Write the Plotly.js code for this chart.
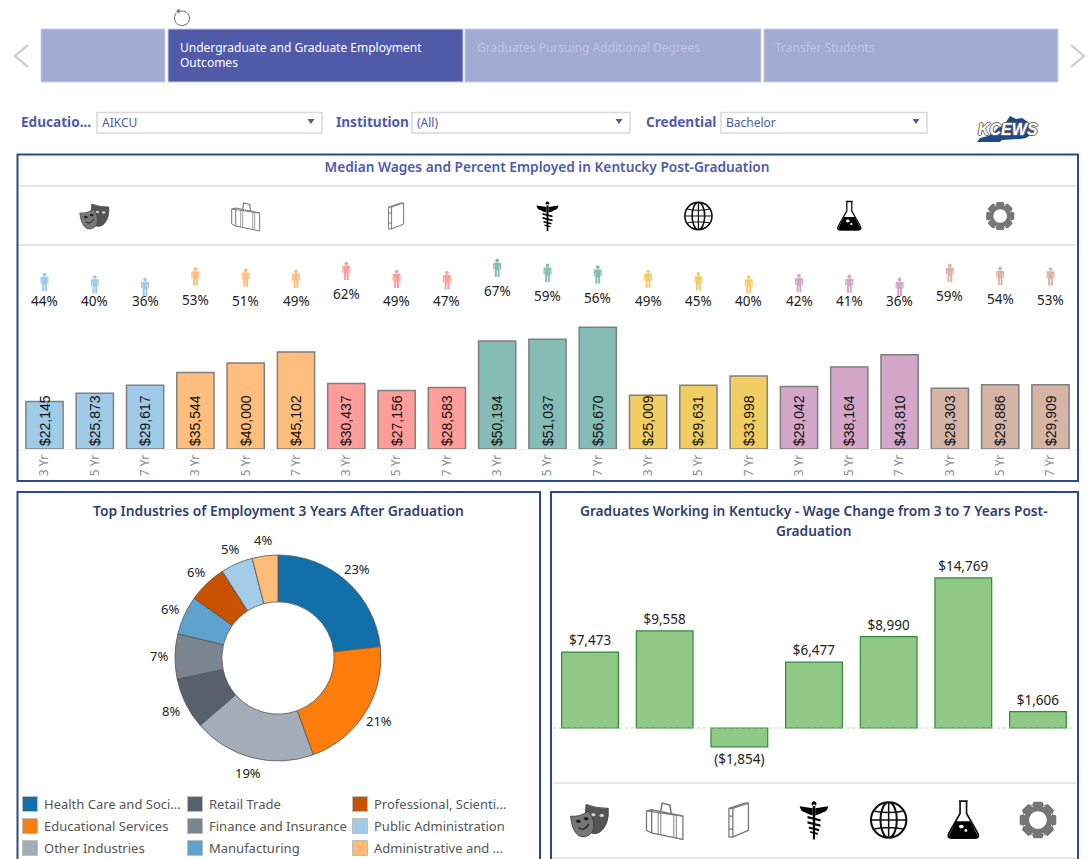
<!DOCTYPE html>
<html><head><meta charset="utf-8">
<script src="https://cdn.plot.ly/plotly-3.0.1.min.js"></script>
<style>html,body{margin:0;padding:0;background:#fff;overflow:hidden}#c{width:1091px;height:859px}</style>
</head><body><div id="c"></div>
<script>
// ---- data ----
const wageYears = ["3 Yr","5 Yr","7 Yr","3 Yr","5 Yr","7 Yr","3 Yr","5 Yr","7 Yr","3 Yr","5 Yr","7 Yr","3 Yr","5 Yr","7 Yr","3 Yr","5 Yr","7 Yr","3 Yr","5 Yr","7 Yr"];
const medianWages = [22145,25873,29617,35544,40000,45102,30437,27156,28583,50194,51037,56670,25009,29631,33998,29042,38164,43810,28303,29886,29909];
const pctEmployed = [44,40,36,53,51,49,62,49,47,67,59,56,49,45,40,42,41,36,59,54,53];
const groupColors = ["#A0CBE8","#FFBE7D","#FF9D9A","#86BCB6","#F1CE63","#D4A6C8","#D7B5A6"];
const industries = ["Health Care and Soci...","Educational Services","Other Industries","Retail Trade","Finance and Insurance","Manufacturing","Professional, Scienti...","Public Administration","Administrative and ..."];
const industryPct = [23,21,19,8,7,6,6,5,4];
const industryColors = ["#1170AA","#FC7D0B","#A3ACB9","#57606C","#7B848F","#5FA2CE","#C85200","#A3CCE9","#FFBC79"];
const wageChange = [7473,9558,-1854,6477,8990,14769,1606];
const iconKinds = ["masks","case","book","caduceus","globe","flask","gear"];

// ---- helpers ----
const W = 1091, H = 859;
const F = '"Noto Sans", sans-serif';
const NAVY = "#2C4A86", INDIGO = "#4F5BA9";
const px = x => x / W, py = y => 1 - y / H;
const shapes = [], annotations = [];

function rect(x0, y0, x1, y1, fill, line, lw) {
  shapes.push({type:"rect", xref:"paper", yref:"paper", x0:px(x0), x1:px(x1), y0:py(y0), y1:py(y1),
    fillcolor:fill || "rgba(0,0,0,0)", line:{color:line || "rgba(0,0,0,0)", width:lw === undefined ? 0 : lw}});
}
function hline(x0, x1, y, color, lw) {
  shapes.push({type:"line", xref:"paper", yref:"paper", x0:px(x0), x1:px(x1), y0:py(y), y1:py(y), line:{color:color, width:lw}});
}
function label(x, y, text, opts) {
  opts = opts || {};
  annotations.push({xref:"paper", yref:"paper", x:px(x), y:py(y), text:text, showarrow:false,
    xanchor:opts.anchor || "left", yanchor:"middle", align:opts.align || "left",
    font:{family:opts.family || F, size:opts.size || 13, color:opts.color || "#333",
      weight:opts.weight || 400, style:opts.style || "normal", shadow:opts.shadow || "none"},
    borderpad:0, xshift:0});
}
// local path: y pointing down, absolute M L Q C Z only
function flip(path, s) {
  return path.replace(/(-?[\d.]+)[ ,](-?[\d.]+)/g, (m, a, b) => (a * s).toFixed(2) + "," + (-b * s).toFixed(2));
}
function pixShape(path, s, xref, xanchor, yref, yanchor, style) {
  shapes.push(Object.assign({type:"path", path:flip(path, s), xref:xref, yref:yref,
    xsizemode:"pixel", ysizemode:"pixel", xanchor:xanchor, yanchor:yanchor,
    line:{color:style.line || "rgba(0,0,0,0)", width:style.lw === undefined ? 1 : style.lw},
    fillcolor:style.fill || "rgba(0,0,0,0)"}, style.rule ? {fillrule:style.rule} : {}));
}
function pagePix(path, x, y, style) { pixShape(path, 1, "paper", px(x), "paper", py(y), style); }
function ell(cx, cy, rx, ry) {
  const k = 0.5523, a = rx * k, b = ry * k;
  return `M${cx - rx},${cy}C${cx - rx},${cy - b} ${cx - a},${cy - ry} ${cx},${cy - ry}` +
    `C${cx + a},${cy - ry} ${cx + rx},${cy - b} ${cx + rx},${cy}` +
    `C${cx + rx},${cy + b} ${cx + a},${cy + ry} ${cx},${cy + ry}` +
    `C${cx - a},${cy + ry} ${cx - rx},${cy + b} ${cx - rx},${cy}Z`;
}
const gearPath = (() => {
  const teeth = 8; let d = "";
  for (let i = 0; i < teeth; i++) {
    const a = i * 2 * Math.PI / teeth - Math.PI / 2, w = 0.24;
    const P = (r, t) => (r * Math.cos(t)).toFixed(2) + "," + (r * Math.sin(t)).toFixed(2);
    d += (i ? "L" : "M") + P(11, a - 2 * w) + "L" + P(14.5, a - w) + "L" + P(14.5, a + w) + "L" + P(11, a + 2 * w);
  }
  return d + "Z" + ell(0, 0, 6.8, 6.8);
})();
const ICONS = {
  masks: [
    {d:"M-3,-12Q4,-9 14,-9Q15,3 8,9Q3,12 0,9Q-5,0 -3,-12Z", fill:"#555", line:"#333", lw:.6},
    {d:ell(2.5,-4,1.8,1.2)+ell(9,-3.5,1.8,1.2), fill:"#cfcfcf"},
    {d:"M-15,-3Q-8,-2 -1,-7Q5,2 2,9Q-3,15 -9,12Q-14,8 -15,-3Z", fill:"#777", line:"#333", lw:.6},
    {d:ell(-9,1,1.9,1.3)+ell(-3,-1,1.9,1.3), fill:"#222"},
    {d:"M-9,6Q-4,9 -1,3", line:"#222", lw:1}
  ],
  case: [
    {d:"M-10,-8L14,-3L14,15L-10,10Z", fill:"#fff", line:"#777", lw:1},
    {d:"M-10,-8L-14,-7L-14,8L-10,10M-14,-7L10,-3.5L14,-3", line:"#777", lw:1},
    {d:"M-5,-7L-5,11M-3,-6.5L-3,11.5M7,-4.5L7,13.5M9,-4L9,14", line:"#888", lw:.8},
    {d:"M-3,-7L-2,-13L4,-11.5L5,-5", line:"#777", lw:1.2}
  ],
  book: [
    {d:"M-5,-9L7,-13L7,8L-5,13Z", fill:"#fff", line:"#777", lw:1},
    {d:"M-5,-9L-8,-9L-8,13L-5,13M-8,-9L4,-13L7,-13M-8,-3L-5,-3M-8,7L-5,7", line:"#777", lw:1}
  ],
  caduceus: [
    {d:"M-1,-12L1,-12L.8,15L-.8,15Z"+ell(0,-12.5,1.9,1.9), fill:"#000"},
    {d:"M-1,-9L-11,-10.5Q-10,-6 -7,-6Q-4,-4 -1,-3.5ZM1,-9L11,-10.5Q10,-6 7,-6Q4,-4 1,-3.5Z", fill:"#000"},
    {d:"M-5,-3L5,-.5L5,1.2L-5,-1.3ZM-5,1L5,3.5L5,5.2L-5,2.7ZM-4,5L4,7L4,8.6L-4,6.6ZM-3,8.5L3,10L3,11.3L-3,9.8Z", fill:"#000"}
  ],
  globe: [
    {d:ell(0,0,13.6,13.6)+ell(0,0,6.3,13.6), line:"#111", lw:1.6},
    {d:"M-13.6,0L13.6,0M0,-13.6L0,13.6M-11.5,-7Q0,-4.5 11.5,-7M-11.5,7Q0,4.5 11.5,7", line:"#111", lw:1.2}
  ],
  flask: [
    {d:"M-3.4,-14.5L3.4,-14.5M-2.5,-14.5L-2.5,-5L-11,10Q-13,14 -9,14L9,14Q13,14 11,10L2.5,-5L2.5,-14.5", fill:"#fff", line:"#111", lw:1.3},
    {d:"M-5.5,1L5.5,1L11,12Q11,14 9,14L-9,14Q-11,14 -11,12Z", fill:"#000"},
    {d:ell(-1.5,5,1.8,1.4)+ell(2,8,1.1,1), fill:"#fff"}
  ],
  gear: [{d:gearPath, fill:"#767676", rule:"evenodd"}]
};
function icon(kind, xref, xval, yPx, s) {
  ICONS[kind].forEach(p => pixShape(p.d, s, xref, xval, "paper", py(yPx),
    {fill:p.fill, line:p.line, lw:p.lw === undefined ? 0 : p.lw * s, rule:p.rule}));
}
const PERSON = ell(0,-7.5,1.9,1.9) + "M-2.6,-5.3L2.6,-5.3Q4,-5.3 4,-3.9L4,1.6L2.8,1.6L2.8,-3L2.4,-3L2.4,9L.4,9L.4,2.5L-.4,2.5L-.4,9L-2.4,9L-2.4,-3L-2.8,-3L-2.8,1.6L-4,1.6L-4,-3.9Q-4,-5.3 -2.6,-5.3Z";

// ---- page furniture ----
// tabs
[[41,165,0],[168,463,1],[465,761,0],[764,1058,0]].forEach(t =>
  rect(t[0], 29, t[1], 82, t[2] ? INDIGO : "#A4ABD3", "#C9CEE6", 1));
label(178.5, 48, "Undergraduate and Graduate Employment", {color:"#fff", size:12});
label(178.5, 62.5, "Outcomes", {color:"#fff", size:12});
label(475.5, 48, "Graduates Pursuing Additional Degrees", {color:"#BFC4E0", size:12});
label(773.5, 48, "Transfer Students", {color:"#BFC4E0", size:12});
pagePix("M13,-11L0,0L13,11", 15, 56, {line:"#C9C9C9", lw:2});
pagePix("M0,-11L13,0L0,11", 1071, 56, {line:"#C9C9C9", lw:2});
// reload mark
pagePix("M-2.5,-6.6C3,-8.5 7.5,-4 7.5,0C7.5,4.5 4,7.5 0,7.5C-4,7.5 -7.5,4.5 -7.5,0C-7.5,-2 -6.5,-4 -5.5,-5", 182, 18, {line:"#666", lw:1});
pagePix("M-2.5,-9.5L-2.5,-4.5L-6,-6.8Z", 182, 18, {fill:"#666", lw:0});
// filters
[["Educatio...",19.5,97,322,"AIKCU"],["Institution",334.5,412,630,"(All)"],["Credential",644.5,721,927,"Bachelor"]].forEach(f => {
  label(f[1], 121.5, f[0], {color:INDIGO, size:13.6, weight:700});
  rect(f[2], 112.5, f[3], 133, "#fff", "#D9D9D9", 1.5);
  label(f[2] + 3.5, 122.5, f[4], {color:INDIGO, size:12});
  pagePix("M-3.5,-2L3.5,-2L0,3Z", f[3] - 11, 121, {fill:INDIGO, lw:0});
});
// KCEWS logo
pagePix("M-31,12L-28,8L-20,6L-14,2L-10,-2L-2,-8L2,-14L8,-11L14,-12L20,-8L24,-4L26,0L24,4L18,8L12,9L-6,10L-8,12Z", 1008, 130, {fill:"#1F4A85", lw:0});
label(1008, 129, "KCEWS", {anchor:"center", align:"center", color:"#fff", size:16, weight:700, style:"italic",
  shadow:"-1px 0 #666, 1px 0 #666, 0 -1px #666, 0 1px #666", family:'"Liberation Sans", sans-serif'});

// panels
rect(17.5, 154.5, 1078, 481, "rgba(0,0,0,0)", NAVY, 2);
rect(17.5, 492, 540, 880, "rgba(0,0,0,0)", NAVY, 2);
rect(551, 492, 1078, 880, "rgba(0,0,0,0)", NAVY, 2);
hline(19, 1076, 186, "#DCDCDC", 1.3);
hline(19, 1076, 245, "#DCDCDC", 1.3);
hline(553, 1076, 783, "#DCDCDC", 1.3);
hline(553, 1076, 858, "#DCDCDC", 1.3);

// titles
label(814, 510.5, "Graduates Working in Kentucky - Wage Change from 3 to 7 Years Post-", {anchor:"center", color:"#2F3F6E", size:13.7, weight:600});
label(814, 530.5, "Graduation", {anchor:"center", color:"#2F3F6E", size:13.7, weight:600});
label(278.5, 510.5, "Top Industries of Employment 3 Years After Graduation", {anchor:"center", color:"#2F3F6E", size:13.8, weight:600});

// ---- top panel marks ----
const idx = medianWages.map((_, i) => i + 1);
const barColors = idx.map(i => groupColors[Math.floor((i - 1) / 3)]);
const money = v => "$" + Math.abs(v).toLocaleString("en-US");

pctEmployed.forEach((p, i) => {
  pixShape(PERSON, 1, "x", i + 1, "y2", p, {fill:barColors[i], lw:0});
  annotations.push({xref:"x", yref:"y2", x:i + 1, y:Math.max(p, 50), yshift:-23, text:p + "%", showarrow:false,
    xanchor:"center", yanchor:"middle", font:{family:F, size:13.5, color:"#222"}});
});
iconKinds.forEach((k, i) => icon(k, "x", 2 + 3 * i, 216, 1));

const barsTop = {type:"bar", x:idx, y:medianWages, xaxis:"x", yaxis:"y", width:0.74,
  marker:{color:barColors, line:{color:"#7F7F7F", width:1.5}},
  text:medianWages.map(money), textposition:"inside", insidetextanchor:"start", textangle:-90, constraintext:"none",
  insidetextfont:{family:'"Liberation Sans", Arial, sans-serif', size:14, color:"#111"}, cliponaxis:false, hoverinfo:"skip"};

// ---- pie ----
const pieCx = 278, pieCy = 658, pieLabelR = 119;
const pie = {type:"pie", labels:industries, values:industryPct, sort:false, direction:"clockwise", rotation:0,
  hole:0.545, domain:{x:[px(175), px(381)], y:[py(761), py(555)]},
  marker:{colors:industryColors, line:{color:"#555", width:0.8}},
  textinfo:"none", showlegend:false, automargin:false, hoverinfo:"skip"};
const pieTotal = industryPct.reduce((a, b) => a + b, 0);
let pieRun = 0;
industryPct.forEach(v => {
  const mid = (pieRun + v / 2) / pieTotal * 2 * Math.PI; pieRun += v;
  label(pieCx + pieLabelR * Math.sin(mid), pieCy - pieLabelR * Math.cos(mid), v + "%", {anchor:"center", align:"center", size:13, color:"#222"});
});
industries.forEach((name, i) => {
  const col = Math.floor(i / 3), row = i % 3;
  const x = [22, 187, 352][col], y = 804 + row * 22;
  rect(x + .5, y - 7.5, x + 15.5, y + 7.5, industryColors[i], "#BDBDBD", 1);
  label(x + 21, y, name, {size:13, color:"#555"});
});

// ---- right panel marks ----
const idx3 = wageChange.map((_, i) => i + 1);
const barsRight = {type:"bar", x:idx3, y:wageChange, xaxis:"x3", yaxis:"y3", width:0.76,
  marker:{color:"#8FC985", line:{color:"#2E8B3E", width:1.2}},
  text:wageChange.map(v => v < 0 ? "(" + money(v) + ")" : money(v)), textposition:"outside", constraintext:"none",
  outsidetextfont:{family:F, size:13.5, color:"#222"}, cliponaxis:false, hoverinfo:"skip"};
shapes.push({type:"line", xref:"x3 domain", yref:"y3", x0:0, x1:1, y0:0, y1:0, line:{color:"#BBBBBB", width:0.8, dash:"dot"}});
iconKinds.forEach((k, i) => icon(k, "x3", i + 1, 820, 1.3));

// ---- layout ----
const hidden = {visible:false, fixedrange:true};
const layout = {
  width:W, height:H, margin:{l:0, r:0, t:0, b:0, pad:0}, autosize:false,
  paper_bgcolor:"#fff", plot_bgcolor:"rgba(0,0,0,0)", showlegend:false, hovermode:false, bargap:0,
  title:{text:"Median Wages and Percent Employed in Kentucky Post-Graduation", xref:"paper", yref:"paper",
    x:px(547), xanchor:"center", y:py(167), yanchor:"middle", pad:{t:0, b:0, l:0, r:0},
    font:{family:F, size:13.7, color:INDIGO, weight:600}},
  xaxis:{domain:[px(19.35), px(1075.65)], range:[0.5, 21.5], tickmode:"array", tickvals:idx, ticktext:wageYears,
    tickangle:-90, tickfont:{family:F, size:12, color:"#8C8C8C"}, ticks:"", ticklabelstandoff:0, showgrid:false, zeroline:false,
    minor:{tickmode:"array", tickvals:idx.map(i => i + 0.5), ticks:"outside", ticklen:4, tickcolor:"#EEEEEE", showgrid:false},
    showline:true, linecolor:"#EDEDED", linewidth:1, anchor:"y", fixedrange:true},
  yaxis:Object.assign({domain:[py(449), py(320)], range:[0, 60000], anchor:"x"}, hidden),
  yaxis2:Object.assign({domain:[py(310), py(250)], range:[-1.5, 96.4], anchor:"x"}, hidden),
  xaxis3:Object.assign({domain:[px(552.7), px(1075.3)], range:[0.5, 7.5], anchor:"y3"}, hidden),
  yaxis3:Object.assign({domain:[py(770), py(550)], range:[-4134, 17520], anchor:"x3"}, hidden),
  shapes:shapes, annotations:annotations
};
Plotly.newPlot("c", [barsTop, {type:"scatter", x:idx, y:pctEmployed, xaxis:"x", yaxis:"y2", mode:"markers", marker:{size:1, opacity:0}, hoverinfo:"skip"}, pie, barsRight], layout, {displayModeBar:false, staticPlot:true});
</script></body></html>
